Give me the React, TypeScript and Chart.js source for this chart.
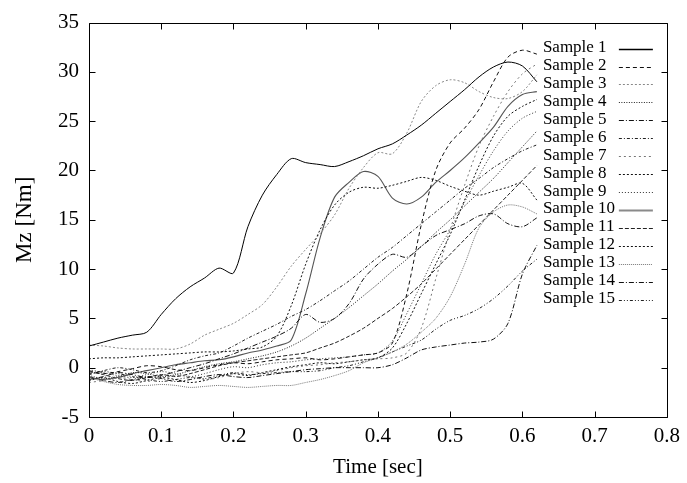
import React, { useEffect, useRef } from 'react';
import { Chart, registerables } from 'chart.js';

Chart.register(...registerables);

// ---- data ----
const TIME = [0, 0.02, 0.04, 0.06, 0.08, 0.1, 0.12, 0.14, 0.16, 0.18, 0.2, 0.22, 0.24, 0.26, 0.28, 0.3, 0.32, 0.34, 0.36, 0.38, 0.4, 0.42, 0.44, 0.46, 0.48, 0.5, 0.52, 0.54, 0.56, 0.58, 0.6, 0.62];

const SAMPLE_1 = [2.2, 2.6, 3.0, 3.3, 3.6, 5.4, 7.0, 8.2, 9.1, 10.1, 9.6, 14.3, 17.5, 19.6, 21.2, 20.8, 20.6, 20.4, 20.9, 21.5, 22.2, 22.7, 23.6, 24.6, 25.8, 27.0, 28.2, 29.5, 30.5, 31.0, 30.6, 29.0];
const SAMPLE_2 = [-0.3, -0.6, -0.4, -0.1, 0.2, 0.1, -0.2, -0.3, 0.0, 0.3, 0.5, 0.4, 0.6, 0.8, 0.9, 1.0, 0.8, 0.9, 1.1, 1.3, 1.5, 2.5, 7.5, 14.5, 20.0, 22.8, 24.3, 26.2, 29.0, 31.5, 32.2, 31.8];
const SAMPLE_3 = [2.3, 2.2, 2.0, 1.9, 1.9, 1.9, 1.9, 2.4, 3.3, 3.9, 4.5, 5.4, 6.4, 8.2, 10.3, 12.0, 13.6, 15.5, 18.2, 20.3, 21.8, 21.7, 23.8, 27.0, 28.6, 29.2, 28.9, 28.0, 27.4, 27.3, 28.0, 29.7];
const SAMPLE_4 = [-0.8, -1.1, -0.9, -0.5, -0.6, -0.9, -0.7, -0.3, 0.1, 0.4, 0.6, 0.9, 1.2, 1.6, 2.2, 3.0, 4.0, 5.0, 6.1, 7.3, 8.5, 9.8, 11.0, 12.3, 13.7, 15.0, 16.4, 17.8, 19.2, 20.8, 22.4, 24.0];
const SAMPLE_5 = [-1.2, -0.9, -0.5, -0.7, -1.0, -0.8, -0.4, 0.0, 0.4, 0.9, 1.4, 2.0, 2.6, 3.2, 4.0, 5.4, 4.6, 5.0, 6.5, 9.0, 10.5, 11.5, 11.2, 12.3, 13.4, 14.0, 14.6, 15.4, 15.6, 14.6, 14.3, 15.2];
const SAMPLE_6 = [-0.6, -0.3, 0.0, -0.2, -0.5, -0.3, 0.2, 0.8, 1.2, 1.5, 2.2, 3.0, 3.7, 4.4, 5.2, 5.9, 6.8, 7.8, 8.8, 10.0, 11.2, 12.2, 13.4, 14.6, 15.8, 17.0, 18.2, 19.2, 20.3, 21.2, 22.0, 22.6];
const SAMPLE_7 = [-1.5, -1.3, -1.0, -1.2, -1.4, -1.1, -0.8, -0.9, -1.2, -1.0, -0.6, -0.4, -0.5, -0.3, 0.0, 0.2, 0.3, 0.5, 0.6, 0.8, 0.9, 1.0, 1.5, 4.0, 9.0, 14.0, 18.5, 22.5, 25.5, 28.0, 29.8, 30.8];
const SAMPLE_8 = [0.9, 1.0, 1.0, 1.1, 1.2, 1.3, 1.4, 1.5, 1.6, 1.6, 1.7, 1.9, 2.1, 3.2, 6.3, 10.5, 14.0, 16.5, 17.8, 18.3, 18.2, 18.5, 18.9, 19.3, 19.0, 18.4, 17.9, 17.5, 17.9, 18.3, 18.7, 17.0];
const SAMPLE_9 = [-0.2, -0.5, -0.8, -1.0, -0.7, -0.4, -0.6, -0.9, -0.6, -0.2, 0.1, 0.0, 0.3, 0.5, 0.6, 0.8, 0.9, 1.0, 1.1, 1.3, 1.5, 2.7, 5.5, 8.5, 11.5, 14.0, 16.8, 19.5, 22.0, 24.0, 25.3, 26.0];
const SAMPLE_10 = [-1.0, -1.2, -1.0, -0.6, -0.3, 0.0, 0.3, 0.5, 0.7, 0.8, 1.1, 1.5, 1.8, 2.2, 2.8, 7.5, 13.2, 17.3, 18.8, 19.9, 19.4, 17.2, 16.6, 17.3, 18.8, 20.0, 21.3, 22.8, 24.4, 26.5, 27.7, 28.0];
const SAMPLE_11 = [-0.4, -0.7, -1.1, -1.3, -1.0, -0.7, -0.9, -0.6, -0.2, 0.2, 0.5, 0.7, 0.9, 1.1, 1.3, 1.5, 2.0, 2.5, 3.2, 4.0, 5.0, 6.0, 7.2, 8.5, 10.0, 11.5, 13.0, 14.5, 16.0, 17.5, 19.0, 20.5];
const SAMPLE_12 = [-1.3, -1.0, -1.4, -1.6, -1.3, -1.0, -1.2, -1.5, -1.3, -0.9, -0.6, -0.8, -0.5, -0.2, 0.1, 0.3, 0.5, 0.4, 0.6, 0.8, 1.0, 2.0, 4.5, 7.5, 10.5, 13.5, 17.0, 20.5, 23.5, 25.5, 26.5, 27.2];
const SAMPLE_13 = [-1.0, -1.4, -1.7, -1.8, -1.8, -1.7, -1.8, -2.0, -1.9, -1.8, -1.9, -2.0, -1.9, -1.8, -1.8, -1.5, -1.2, -0.8, -0.3, 0.5, 1.0, 1.6, 2.4, 3.6, 5.0, 7.2, 10.5, 14.2, 15.8, 16.5, 16.3, 15.6];
const SAMPLE_14 = [-0.9, -1.3, -1.5, -1.2, -0.9, -1.1, -1.4, -1.2, -0.9, -0.7, -0.9, -1.0, -0.8, -0.6, -0.4, -0.2, -0.1, 0.0, 0.0, 0.0, 0.0, 0.3, 1.0, 1.8, 2.1, 2.3, 2.5, 2.6, 2.9, 4.5, 9.5, 12.4];
const SAMPLE_15 = [-0.7, -0.4, -0.6, -0.9, -1.2, -1.4, -1.2, -1.0, -1.1, -0.8, -0.5, -0.7, -0.6, -0.5, -0.4, -0.4, -0.3, 0.0, 0.2, 0.6, 1.0, 1.6, 2.2, 2.8, 3.9, 4.8, 5.3, 6.0, 7.0, 8.3, 9.8, 11.0];

const SERIES_NAMES = ['Sample 1', 'Sample 2', 'Sample 3', 'Sample 4', 'Sample 5', 'Sample 6', 'Sample 7', 'Sample 8', 'Sample 9', 'Sample 10', 'Sample 11', 'Sample 12', 'Sample 13', 'Sample 14', 'Sample 15'];
const SERIES = [SAMPLE_1, SAMPLE_2, SAMPLE_3, SAMPLE_4, SAMPLE_5, SAMPLE_6, SAMPLE_7, SAMPLE_8, SAMPLE_9, SAMPLE_10, SAMPLE_11, SAMPLE_12, SAMPLE_13, SAMPLE_14, SAMPLE_15];

const X_TICK_LABELS = ['0', '0.1', '0.2', '0.3', '0.4', '0.5', '0.6', '0.7', '0.8'];
const Y_TICK_LABELS = ['-5', '0', '5', '10', '15', '20', '25', '30', '35'];

// ---- styles ----
const STYLES = [
  { color: '#000000', dash: [], width: 1, keyColor: '#000000', keyWidth: 1.5 },
  { color: '#111111', dash: [4, 3], width: 1, keyColor: '#111111', keyWidth: 1 },
  { color: '#888888', dash: [2, 2], width: 1, keyColor: '#888888', keyWidth: 1 },
  { color: '#222222', dash: [1, 1.5], width: 1, keyColor: '#222222', keyWidth: 1 },
  { color: '#111111', dash: [5, 2, 1, 2], width: 1, keyColor: '#111111', keyWidth: 1 },
  { color: '#222222', dash: [3, 2, 1, 2], width: 1, keyColor: '#222222', keyWidth: 1 },
  { color: '#777777', dash: [2, 3], width: 1, keyColor: '#777777', keyWidth: 1 },
  { color: '#111111', dash: [2, 2], width: 1, keyColor: '#111111', keyWidth: 1 },
  { color: '#333333', dash: [1, 2], width: 1, keyColor: '#333333', keyWidth: 1 },
  { color: '#555555', dash: [], width: 1.1, keyColor: '#8a8a8a', keyWidth: 2 },
  { color: '#222222', dash: [4, 2], width: 1, keyColor: '#222222', keyWidth: 1 },
  { color: '#111111', dash: [2, 2], width: 1, keyColor: '#111111', keyWidth: 1 },
  { color: '#777777', dash: [1, 1], width: 1, keyColor: '#777777', keyWidth: 1 },
  { color: '#111111', dash: [5, 2, 1, 2], width: 1, keyColor: '#111111', keyWidth: 1 },
  { color: '#222222', dash: [3, 2, 1, 2, 1, 2], width: 1, keyColor: '#222222', keyWidth: 1 },
];

const FONT = "'Liberation Serif', 'Times New Roman', serif";

export default function App() {
  const ref = useRef<HTMLCanvasElement>(null);

  useEffect(() => {
    document.body.style.margin = '0';
    const canvas = ref.current;
    if (!canvas) return;

    const framePlugin = {
      id: 'frameTicks',
      afterDatasetsDraw(chart: any) {
        const { ctx, chartArea } = chart;
        const { left, right, top, bottom } = chartArea;
        const xs = chart.scales.x;
        const ys = chart.scales.y;
        ctx.save();
        ctx.strokeStyle = '#000';
        ctx.lineWidth = 1;
        ctx.setLineDash([]);
        const L = Math.round(left) + 0.5;
        const R = Math.round(right) + 0.5;
        const T = Math.round(top) + 0.5;
        const B = Math.round(bottom) + 0.5;
        ctx.beginPath();
        ctx.rect(L, T, R - L, B - T);
        const tl = 6;
        xs.ticks.forEach((t: any) => {
          const px = Math.round(xs.getPixelForValue(t.value)) + 0.5;
          ctx.moveTo(px, B);
          ctx.lineTo(px, B - tl);
          ctx.moveTo(px, T);
          ctx.lineTo(px, T + tl);
        });
        ys.ticks.forEach((t: any) => {
          const py = Math.round(ys.getPixelForValue(t.value)) + 0.5;
          ctx.moveTo(L, py);
          ctx.lineTo(L + tl, py);
          ctx.moveTo(R, py);
          ctx.lineTo(R - tl, py);
        });
        ctx.stroke();

        // key (gnuplot style: text then line sample)
        ctx.font = `17px ${FONT}`;
        ctx.fillStyle = '#000';
        ctx.textAlign = 'left';
        ctx.textBaseline = 'middle';
        chart.data.datasets.forEach((ds: any, i: number) => {
          const y = top + 25 + i * 17.93;
          ctx.fillText(ds.label, right - 124, y);
          ctx.beginPath();
          ctx.strokeStyle = STYLES[i].keyColor;
          ctx.lineWidth = STYLES[i].keyWidth;
          ctx.setLineDash(ds.borderDash || []);
          const ly = Math.round(y + 1) + 0.5;
          ctx.moveTo(right - 48, ly);
          ctx.lineTo(right - 14, ly);
          ctx.stroke();
        });
        ctx.restore();
      },
    };

    const datasets = SERIES.map((vals, i) => ({
      label: SERIES_NAMES[i],
      data: vals.map((v, j) => ({ x: TIME[j], y: v })),
      borderColor: STYLES[i].color,
      borderWidth: STYLES[i].width,
      borderDash: STYLES[i].dash,
      pointRadius: 0,
      fill: false,
      tension: 0.3,
    }));

    const chart = new Chart(canvas, {
      type: 'line',
      data: { datasets },
      options: {
        animation: false,
        responsive: false,
        devicePixelRatio: 1,
        layout: { padding: { left: 0, right: 20, top: 17, bottom: 0 } },
        plugins: {
          legend: { display: false },
          tooltip: { enabled: false },
        },
        scales: {
          x: {
            type: 'linear',
            min: 0,
            max: 0.8,
            grid: { display: false, drawTicks: false },
            border: { display: false },
            ticks: {
              stepSize: 0.1,
              padding: 7,
              color: '#000',
              font: { family: FONT, size: 21 },
              maxRotation: 0,
              callback: (_v: any, idx: number) => X_TICK_LABELS[idx],
            },
            title: {
              display: true,
              text: 'Time [sec]',
              color: '#000',
              font: { family: FONT, size: 21 },
              padding: { top: 0, bottom: 3 },
            },
            afterFit: (scale: any) => {
              scale.height = 66;
            },
          },
          y: {
            type: 'linear',
            min: -5,
            max: 35,
            grid: { display: false, drawTicks: false },
            border: { display: false },
            ticks: {
              stepSize: 5,
              padding: 10,
              color: '#000',
              font: { family: FONT, size: 21 },
              callback: (_v: any, idx: number) => Y_TICK_LABELS[idx],
            },
            title: {
              display: true,
              text: 'Mz [Nm]',
              color: '#000',
              font: { family: FONT, size: 23 },
              padding: { top: 11, bottom: 0 },
            },
            afterFit: (scale: any) => {
              scale.width = 89;
            },
          },
        },
      },
      plugins: [framePlugin],
    } as any);

    return () => chart.destroy();
  }, []);

  return (
    <div style={{ width: 687, height: 483 }}>
      <canvas ref={ref} width={687} height={483} style={{ display: 'block' }} />
    </div>
  );
}
